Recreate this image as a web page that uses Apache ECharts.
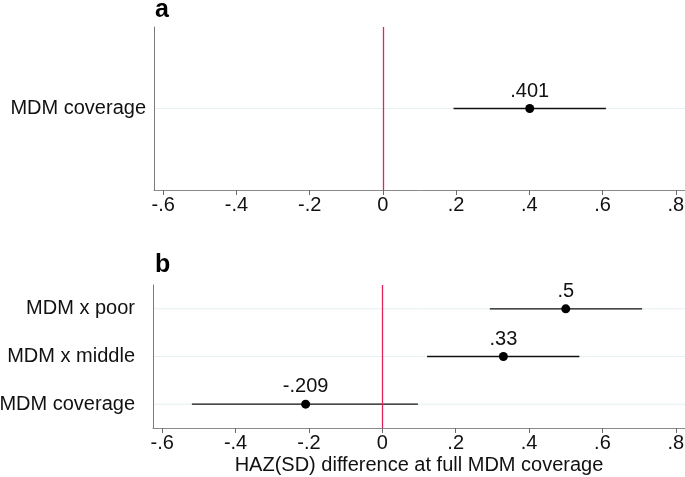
<!DOCTYPE html>
<html>
<head>
<meta charset="utf-8">
<script src="https://cdn.jsdelivr.net/npm/echarts@6/dist/echarts.min.js"></script>
<style>
    html, body { margin: 0; padding: 0; background: #fff; }
    #container { width: 685px; height: 477px; }
</style>
</head>
<body>
<div id="container"></div>
<script>
// panel a
const categoriesA = ['MDM coverage'];
const estimateA = [0.401];
const lowerA = [0.193];
const upperA = [0.609];

// panel b (bottom to top)
const categoriesB = ['MDM coverage', 'MDM x middle', 'MDM x poor'];
const estimateB = [-0.209, 0.33, 0.5];
const lowerB = [-0.519, 0.122, 0.293];
const upperB = [0.097, 0.537, 0.708];

const xTicks = [-0.6, -0.4, -0.2, 0, 0.2, 0.4, 0.6, 0.8];
const xTitle = 'HAZ(SD) difference at full MDM coverage';

const font = 'Liberation Sans, Arial, sans-serif';
const fmt = (v) => String(v).replace('0.', '.');

const chart = echarts.init(document.getElementById('container'), null, { renderer: 'canvas' });

function xAxisFor(gridIndex, withName) {
    return {
        type: 'value',
        gridIndex,
        min: -0.625,
        max: 0.825,
        axisLine: { show: true, onZero: false, lineStyle: { color: '#8a8a8a', width: 1 } },
        axisTick: { show: true, length: 5, lineStyle: { color: '#6a6a6a' }, customValues: xTicks },
        axisLabel: {
            fontFamily: font, fontSize: 20, color: '#111', margin: 5,
            customValues: xTicks, formatter: fmt,
        },
        splitLine: { show: false },
        name: withName ? xTitle : '',
        nameLocation: 'middle',
        nameGap: 27,
        nameTextStyle: { fontFamily: font, fontSize: 20, color: '#111' },
    };
}

function yAxisFor(gridIndex, cats, margin) {
    return {
        type: 'category',
        gridIndex,
        data: cats,
        axisLine: { show: true, onZero: false, lineStyle: { color: '#7a7a7a', width: 1 } },
        axisTick: { show: false },
        axisLabel: { fontFamily: font, fontSize: 20, color: '#111', margin },
        splitLine: { show: false },
    };
}

function ciSeries(idx, cats, lo, hi) {
    return {
        type: 'custom',
        xAxisIndex: idx,
        yAxisIndex: idx,
        silent: true,
        z: 2,
        data: cats.map((c, i) => [lo[i], hi[i], i]),
        renderItem(params, api) {
            const a = api.coord([api.value(0), api.value(2)]);
            const b = api.coord([api.value(1), api.value(2)]);
            const cs = params.coordSys;
            return {
                type: 'group',
                children: [
                    {
                        type: 'line',
                        shape: { x1: cs.x + 1, y1: a[1], x2: cs.x + cs.width, y2: a[1] },
                        style: { stroke: '#e6eff1', lineWidth: 1 },
                        z2: 0,
                    },
                    {
                        type: 'line',
                        shape: { x1: a[0], y1: a[1], x2: b[0], y2: b[1] },
                        style: { stroke: '#111', lineWidth: 1.3 },
                        z2: 5,
                    },
                ],
            };
        },
    };
}

function pointSeries(idx, cats, est) {
    return {
        type: 'scatter',
        xAxisIndex: idx,
        yAxisIndex: idx,
        z: 4,
        symbolSize: 9,
        itemStyle: { color: '#000', opacity: 1 },
        data: cats.map((c, i) => [est[i], i]),
        label: {
            show: true,
            position: 'top',
            distance: 3,
            fontFamily: font,
            fontSize: 20,
            color: '#111',
            opacity: 1,
            formatter: (p) => fmt(p.value[0]),
        },
        markLine: {
            silent: true,
            symbol: 'none',
            animation: false,
            label: { show: false },
            lineStyle: { color: '#e2245a', type: 'solid', width: 1.3, opacity: 1 },
            data: [{ xAxis: 0 }],
        },
    };
}

chart.setOption({
    animation: false,
    backgroundColor: '#fff',
    title: [
        { text: 'a', left: 155, top: -2, padding: 0, textStyle: { fontFamily: font, fontSize: 25, fontWeight: 'bold', color: '#000' } },
        { text: 'b', left: 155, top: 253, padding: 0, textStyle: { fontFamily: font, fontSize: 25, fontWeight: 'bold', color: '#000' } },
    ],
    grid: [
        { left: 154, right: 0, top: 27, bottom: 287, outerBoundsMode: 'none', containLabel: false },
        { left: 153, right: 0, top: 285, bottom: 49, outerBoundsMode: 'none', containLabel: false },
    ],
    xAxis: [xAxisFor(0, false), xAxisFor(1, true)],
    yAxis: [yAxisFor(0, categoriesA, 8), yAxisFor(1, categoriesB, 18)],
    series: [
        ciSeries(0, categoriesA, lowerA, upperA),
        pointSeries(0, categoriesA, estimateA),
        ciSeries(1, categoriesB, lowerB, upperB),
        pointSeries(1, categoriesB, estimateB),
    ],
});
</script>
</body>
</html>
